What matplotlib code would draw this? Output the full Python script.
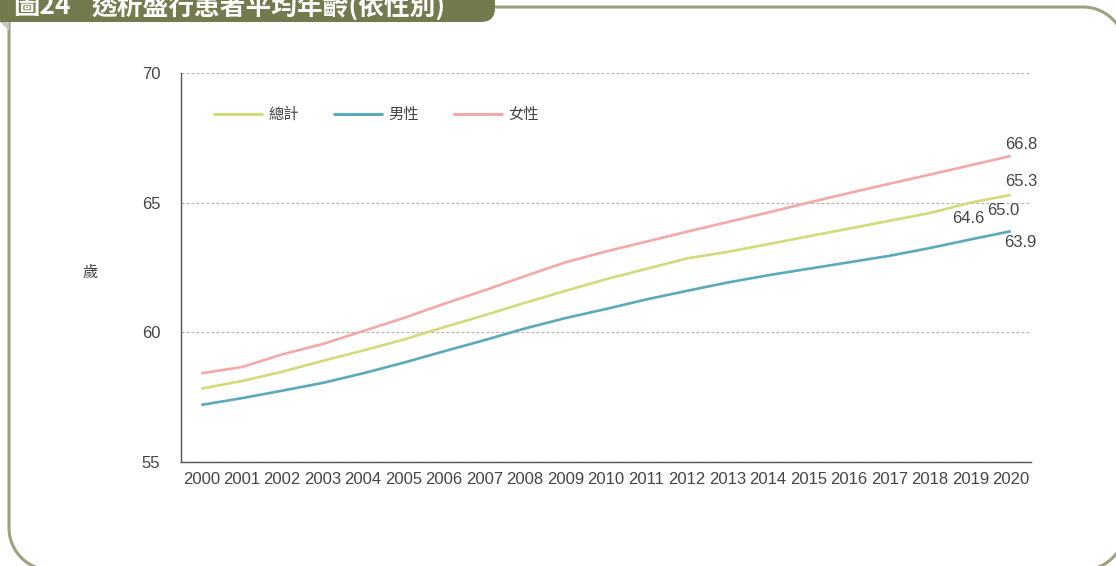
import matplotlib
matplotlib.use('Agg')
import matplotlib.pyplot as plt
from matplotlib.patches import FancyBboxPatch, Polygon
import numpy as np

years = [str(y) for y in range(2000, 2021)]
totalAge = [57.83, 58.12, 58.48, 58.9, 59.3, 59.72, 60.2, 60.66, 61.14, 61.6, 62.05,
			62.45, 62.85, 63.1, 63.4, 63.7, 64.0, 64.3, 64.6, 65.0, 65.3]
maleAge = [57.2, 57.46, 57.75, 58.05, 58.42, 58.83, 59.27, 59.7, 60.15, 60.55, 60.9,
		   61.27, 61.6, 61.92, 62.2, 62.45, 62.7, 62.95, 63.25, 63.58, 63.9]
femaleAge = [58.42, 58.66, 59.15, 59.55, 60.05, 60.55, 61.1, 61.62, 62.17, 62.7, 63.12,
			 63.5, 63.88, 64.25, 64.62, 65.0, 65.37, 65.73, 66.08, 66.44, 66.8]
seriesNames = ['總計', '男性', '女性']
yTicks = [55, 60, 65, 70]

titleNumber = '圖24'
titleText = '透析盛行患者平均年齡(依性別)'
yLabel = '歲'

cjkFont = ['Noto Sans CJK TC', 'DejaVu Sans']
numFont = ['Liberation Sans', 'DejaVu Sans']
textColor = '#444444'
colors = ['#d3da7a', '#5ba9bd', '#f4a9a7']
olive = '#747a4e'
frameColor = '#a0a080'

plt.rcParams['font.family'] = cjkFont

W, H = 1116, 566
fig = plt.figure(figsize=(W/100, H/100), dpi=100)

# background layer in pixel units
bg = fig.add_axes([0, 0, 1, 1])
bg.set_xlim(0, W)
bg.set_ylim(H, 0)
bg.axis('off')

# frame outline: square top-left (under the banner), rounded other corners
frameLeft, frameTop, frameRight, frameBottom, radius = 9, 7, 1125, 570, 42
t = np.linspace(0, np.pi/2, 30)
framePts = [(frameLeft, frameTop)]
framePts += list(zip(frameRight - radius + radius*np.sin(t), frameTop + radius - radius*np.cos(t)))
framePts += list(zip(frameRight - radius + radius*np.cos(t), frameBottom - radius + radius*np.sin(t)))
framePts += list(zip(frameLeft + radius - radius*np.sin(t), frameBottom - radius + radius*np.cos(t)))
framePts += [(frameLeft, frameTop)]
fx, fy = zip(*framePts)
bg.plot(fx, fy, color=frameColor, linewidth=2.2, zorder=1, solid_capstyle='butt')

bg.add_patch(Polygon([[0, 22], [9, 22], [9, 31]], closed=True,
					 facecolor='#cacabc', edgecolor='none', zorder=2))
bg.add_patch(FancyBboxPatch((-30, -30), 525, 52, boxstyle='round,pad=0,rounding_size=14',
							facecolor=olive, edgecolor='none', zorder=3))
bg.text(13, 7, titleNumber, color='white', fontsize=19, fontweight='bold',
		va='center', ha='left', zorder=4)
bg.text(92, 7, titleText, color='white', fontsize=18.5, fontweight='bold',
		va='center', ha='left', zorder=4)
bg.text(90, 272, yLabel, color=textColor, fontsize=11, va='center', ha='center', zorder=4)

ax = fig.add_axes([181/W, 1 - 462/H, 850/W, 389/H])
ax.set_facecolor('none')
x = np.arange(len(years))
allSeries = [totalAge, maleAge, femaleAge]
for values, name, color in zip(allSeries, seriesNames, colors):
	ax.plot(x, values, color=color, linewidth=1.9, label=name, solid_capstyle='butt')

ax.set_xlim(-0.5, len(years) - 0.5)
ax.set_ylim(55, 70)
ax.set_yticks(yTicks)
ax.set_xticks(x)
ax.set_xticklabels(years)
for lab in ax.get_xticklabels() + ax.get_yticklabels():
	lab.set_family(numFont)
	lab.set_fontsize(12)
	lab.set_color(textColor)
ax.tick_params(axis='both', length=0)
ax.tick_params(axis='y', pad=15)
ax.tick_params(axis='x', pad=7)
ax.grid(axis='y', color='#b0b0b0', linestyle=(0, (2.5, 2)), linewidth=0.8)
ax.spines['top'].set_visible(False)
ax.spines['right'].set_visible(False)
ax.spines['left'].set_color('#555555')
ax.spines['bottom'].set_color('#555555')
ax.spines['left'].set_linewidth(1.0)
ax.spines['bottom'].set_linewidth(1.0)

# value labels
labelSpecs = [
	(femaleAge, 20, (10, 11)),
	(totalAge, 20, (10, 13)),
	(maleAge, 20, (10, -11)),
	(totalAge, 18, (38, -5)),
	(totalAge, 19, (33, -8)),
]
for values, idx, offset in labelSpecs:
	ax.annotate(f'{values[idx]:.1f}', (x[idx], values[idx]), xytext=offset,
				textcoords='offset pixels', ha='center', va='center',
				fontsize=12, color=textColor, family=numFont)

legend = ax.legend(loc='upper left', bbox_to_anchor=(0.0376, 0.915), ncol=3, frameon=False,
				   borderpad=0, borderaxespad=0, handlelength=3.3, handletextpad=0.35,
				   columnspacing=2.2, prop={'family': cjkFont, 'size': 11})
for text in legend.get_texts():
	text.set_color(textColor)
for line in legend.get_lines():
	line.set_linewidth(2.2)

fig.savefig('out.png', dpi=100)
